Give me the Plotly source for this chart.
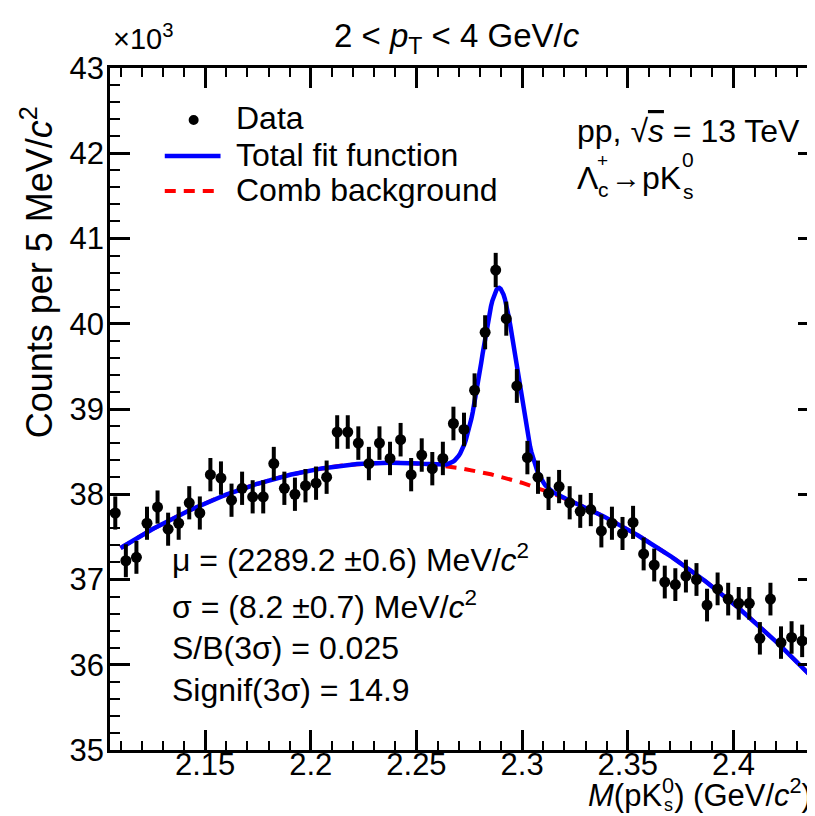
import numpy as np
import plotly.graph_objects as go

# ---------------- data (counts in units of 10^3 per 5 MeV/c^2 bin) ----------------
BIN_LOW = 2.105
BIN_WIDTH = 0.005
counts_k = [37.78, 37.22, 37.26, 37.66, 37.85, 37.59, 37.66, 37.90, 37.78, 38.23,
            38.19, 37.93, 38.07, 37.97, 37.97, 38.36, 38.07, 38.00, 38.10, 38.13,
            38.20, 38.73, 38.73, 38.60, 38.36, 38.60, 38.42, 38.64, 38.23, 38.46,
            38.30, 38.42, 38.83, 38.76, 39.22, 39.90, 40.63, 40.06, 39.27, 38.43,
            38.20, 38.01, 38.09, 37.90, 37.80, 37.82, 37.57, 37.66, 37.54, 37.67,
            37.30, 37.17, 36.97, 36.94, 37.04, 37.00, 36.70, 36.89, 36.77, 36.72,
            36.72, 36.31, 36.77, 36.26, 36.32, 36.28, 35.90]
mass = [round(BIN_LOW + BIN_WIDTH * (i + 0.5), 4) for i in range(len(counts_k))]
errors_k = [float(np.sqrt(c * 1000.0) / 1000.0) for c in counts_k]   # Poisson errors

# fit parameters (background polynomial in u=(x-center)/scale, gaussian signal)
BKG_CENTER = 2.27
BKG_SCALE = 0.1
BKG_COEF = [38.3087, -0.39446, -0.6274, -0.008856]
SIG_AMP = 2.21
SIG_MU = 2.2892
SIG_SIGMA = 0.0082
FIT_RANGE = [2.11, 2.44]

x_ticks = [2.15, 2.2, 2.25, 2.3, 2.35, 2.4]
x_ticktext = ["2.15", "2.2", "2.25", "2.3", "2.35", "2.4"]
y_ticks = [35, 36, 37, 38, 39, 40, 41, 42, 43]

# ---------------- fit curves ----------------
xf = np.linspace(FIT_RANGE[0], FIT_RANGE[1], 500)
u = (xf - BKG_CENTER) / BKG_SCALE
bkg = sum(c * u ** k for k, c in enumerate(BKG_COEF))
total = bkg + SIG_AMP * np.exp(-0.5 * ((xf - SIG_MU) / SIG_SIGMA) ** 2)

FONT = "Liberation Sans, Arial, Helvetica, sans-serif"
FS = 31

fig = go.Figure()
fig.add_trace(go.Scatter(x=xf, y=bkg, mode="lines",
                         line=dict(color="#ff0000", width=4, dash="11px,8px"),
                         showlegend=False, hoverinfo="skip"))
fig.add_trace(go.Scatter(x=xf, y=total, mode="lines",
                         line=dict(color="#0000ff", width=4.5),
                         showlegend=False, hoverinfo="skip"))
fig.add_trace(go.Scatter(x=mass, y=counts_k, mode="markers",
                         marker=dict(color="black", size=11, symbol="circle"),
                         error_y=dict(type="data", array=errors_k, visible=True,
                                      color="black", thickness=4, width=0),
                         showlegend=False))

# plot area in pixels: x 102..813, y 60..742
L, R, T, B = 102, 813, 60, 742
W, H = R - L, B - T


def px(x):
    return (x - L) / W


def py(y):
    return (B - y) / H


annotations = []


def text(s, x, y, xanchor="left", yanchor="middle", size=FS, angle=0):
    annotations.append(dict(text=s, x=px(x), y=py(y), xref="paper", yref="paper",
                            xanchor=xanchor, yanchor=yanchor, showarrow=False,
                            textangle=angle, font=dict(family=FONT, size=size, color="black")))


# title
text("2 &lt; <i>p</i><sub>T</sub> &lt; 4 GeV/<i>c</i>", 450, 30, xanchor="center", size=33)
# exponent
text("×10<sup>3</sup>", 103, 29, xanchor="left", size=29)
# y-axis title
text("Counts per 5 MeV/<i>c</i><sup>2</sup>", 29, 264, xanchor="center", yanchor="middle",
     size=36, angle=-90)
# x-axis title (with stacked 0 / s on K)
text("<i>M</i>(pK<sup>0</sup>) (GeV/<i>c</i><sup>2</sup>)", 809, 785, xanchor="right", size=31)
text("s", 663, 797, xanchor="center", size=18)
# legend texts
text("Data", 227, 110, size=32)
text("Total fit function", 227, 147, size=32)
text("Comb background", 227, 182, size=32)
# top-right labels
text("pp, √<span style='text-decoration:overline'><i>s</i></span> = 13 TeV", 569, 123, size=32)
text("Λ", 569, 170, size=32)
text("+", 597, 152, xanchor="center", size=19)
text("c", 598, 182, xanchor="center", size=21)
text("→", 620, 170, xanchor="center", size=30)
text("pK", 634, 170, size=32)
text("0", 682, 151, xanchor="center", size=21)
text("s", 683, 184, xanchor="center", size=21)
# fit results
text("μ = (2289.2 ±0.6) MeV/<i>c</i><sup>2</sup>", 162, 550, size=32)
text("σ = (8.2 ±0.7) MeV/<i>c</i><sup>2</sup>", 162, 597, size=32)
text("S/B(3σ) = 0.025", 162, 640, size=32)
text("Signif(3σ) = 14.9", 162, 682, size=32)

shapes = [
    dict(type="line", xref="paper", yref="paper", x0=px(157), x1=px(213), y0=py(148), y1=py(148),
         line=dict(color="#0000ff", width=4.5)),
    dict(type="line", xref="paper", yref="paper", x0=px(157), x1=px(213), y0=py(183), y1=py(183),
         line=dict(color="#ff0000", width=4, dash="11px,8px")),
    dict(type="circle", xref="paper", yref="paper", xsizemode="pixel", ysizemode="pixel",
         xanchor=px(186), yanchor=py(112), x0=-5, x1=5, y0=-5, y1=5,
         fillcolor="black", line=dict(color="black", width=0)),
]

axis_common = dict(showline=True, linecolor="black", linewidth=2.5, mirror="ticks",
                   ticks="inside", tickcolor="black", tickwidth=2.5, ticklen=20,
                   showgrid=False, zeroline=False,
                   tickfont=dict(family=FONT, size=FS, color="black"))

fig.update_layout(
    width=815, height=816,
    margin=dict(l=L, r=815 - R, t=T, b=816 - B),
    paper_bgcolor="white", plot_bgcolor="white",
    showlegend=False,
    annotations=annotations, shapes=shapes,
    xaxis=dict(range=[BIN_LOW, 2.44], tickvals=x_ticks, ticktext=x_ticktext,
               minor=dict(ticks="inside", ticklen=9, tickwidth=2, dtick=0.01,
                          tick0=2.15, tickcolor="black", showgrid=False),
               ticklabelstandoff=-15, **axis_common),
    yaxis=dict(range=[35, 43], tickvals=y_ticks,
               minor=dict(ticks="inside", ticklen=10, tickwidth=2, dtick=0.2,
                          tick0=35, tickcolor="black", showgrid=False),
               ticklabelstandoff=-3, **axis_common),
)

fig.write_html("out.html")
